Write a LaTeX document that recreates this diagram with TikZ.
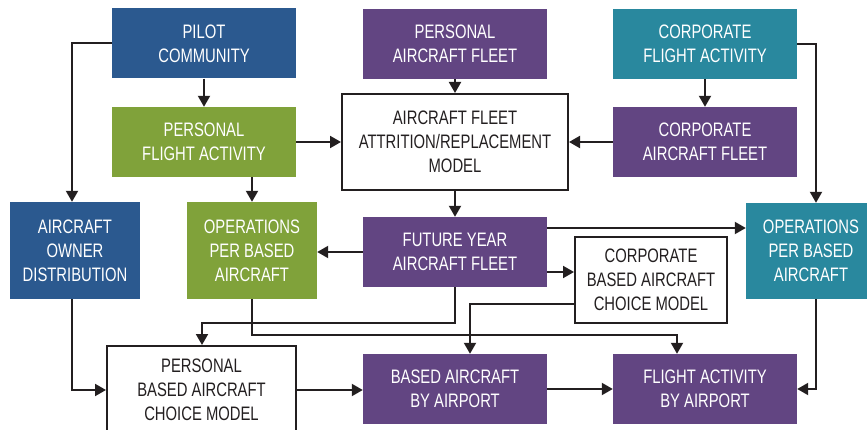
\documentclass[tikz,border=0pt]{standalone}
\usepackage{fontspec}
\setmainfont{Liberation Sans}[FakeStretch=0.76]
\usetikzlibrary{arrows.meta}
\definecolor{fblue}{RGB}{43,89,143}
\definecolor{fpurple}{RGB}{98,69,130}
\definecolor{fgreen}{RGB}{128,162,58}
\definecolor{fteal}{RGB}{41,136,158}
\definecolor{fdark}{RGB}{35,31,32}
\tikzset{>={Triangle[width=12pt,length=11pt]}}
\tikzset{
  box/.style={inner sep=0pt, align=center, font=\fontsize{19.5}{24}\selectfont,
    minimum width=184pt, minimum height=70pt},
  bluebox/.style={box, fill=fblue, text=white},
  purplebox/.style={box, fill=fpurple, text=white},
  greenbox/.style={box, fill=fgreen, text=white},
  tealbox/.style={box, fill=fteal, text=white},
  modelbox/.style={box, draw=fdark, line width=2pt, fill=white, text=fdark},
  link/.style={->, draw=fdark, line width=2pt},
}

\begin{document}
\begin{tikzpicture}[x=1pt, y=-1pt]
    \useasboundingbox (0,0) rectangle (867,430);
    % top row
    \node[bluebox] (pilot) at (204,43.5) {PILOT\\COMMUNITY};
    \node[purplebox] (persfleet) at (455,44) {PERSONAL\\AIRCRAFT FLEET};
    \node[tealbox] (corpflight) at (705,44) {CORPORATE\\FLIGHT ACTIVITY};
    % second row
    \node[greenbox] (persflight) at (204,142) {PERSONAL\\FLIGHT ACTIVITY};
    \node[modelbox, minimum width=226pt, minimum height=96pt] (attrition) at (455,142)
        {AIRCRAFT FLEET\\ATTRITION/REPLACEMENT\\MODEL};
    \node[purplebox] (corpfleet) at (705,142) {CORPORATE\\AIRCRAFT FLEET};
    % third row
    \node[bluebox, minimum width=130pt, minimum height=97pt] (owner) at (75,250.5)
        {AIRCRAFT\\OWNER\\DISTRIBUTION};
    \node[greenbox, minimum width=130pt, minimum height=97pt] (persops) at (252,250.5)
        {OPERATIONS\\PER BASED\\AIRCRAFT};
    \node[purplebox] (future) at (455,252) {FUTURE YEAR\\AIRCRAFT FLEET};
    \node[modelbox, minimum width=152pt, minimum height=86pt] (corpchoice) at (651,280)
        {CORPORATE\\BASED AIRCRAFT\\CHOICE MODEL};
    \node[tealbox, minimum width=130pt, minimum height=96pt] (corpops) at (811,251)
        {OPERATIONS\\PER BASED\\AIRCRAFT};
    % bottom row
    \node[modelbox, minimum width=189pt, minimum height=88pt] (perschoice) at (201.5,390)
        {PERSONAL\\BASED AIRCRAFT\\CHOICE MODEL};
    \node[purplebox] (basedap) at (455,389) {BASED AIRCRAFT\\BY AIRPORT};
    \node[purplebox] (flightap) at (705,389) {FLIGHT ACTIVITY\\BY AIRPORT};
    % links
    \draw[link] (pilot.west) -| ([xshift=-3pt]owner.north);
    \draw[link] (pilot.south) -- (persflight.north);
    \draw[link] (persflight.east) -- (persflight.east -| attrition.west);
    \draw[link] (persflight.south -| persops.north) -- (persops.north);
    \draw[link] (persfleet.south) -- (attrition.north);
    \draw[link] (corpflight.south) -- (corpfleet.north);
    \draw[link] (corpfleet.west) -- (corpfleet.west -| attrition.east);
    \draw[link] (corpflight.east) -| ([xshift=5pt]corpops.north);
    \draw[link] (attrition.south) -- (future.north);
    \draw[link] (future.west) -- (future.west -| persops.east);
    \draw[link] ([yshift=24pt]future.east) -- ([yshift=24pt]future.east -| corpops.west);
    \draw[link] ([yshift=-20pt]future.east) -- ([yshift=-20pt]future.east -| corpchoice.west);
    \draw[link] (future.south) -- ++(0,36) -| ([xshift=0.5pt]perschoice.north);
    \draw[link] (persops.south) -- ++(0,36) -| ([xshift=-28pt]flightap.north);
    \draw[link] ([yshift=-24pt]corpchoice.west) -| ([xshift=15pt]basedap.north);
    \draw[link] ([xshift=-3pt]owner.south) |- (perschoice.west);
    \draw[link] (perschoice.east) -- (perschoice.east -| basedap.west);
    \draw[link] (basedap.east) -- (flightap.west);
    \draw[link] ([xshift=5pt]corpops.south) |- (flightap.east);
\end{tikzpicture}
\end{document}
